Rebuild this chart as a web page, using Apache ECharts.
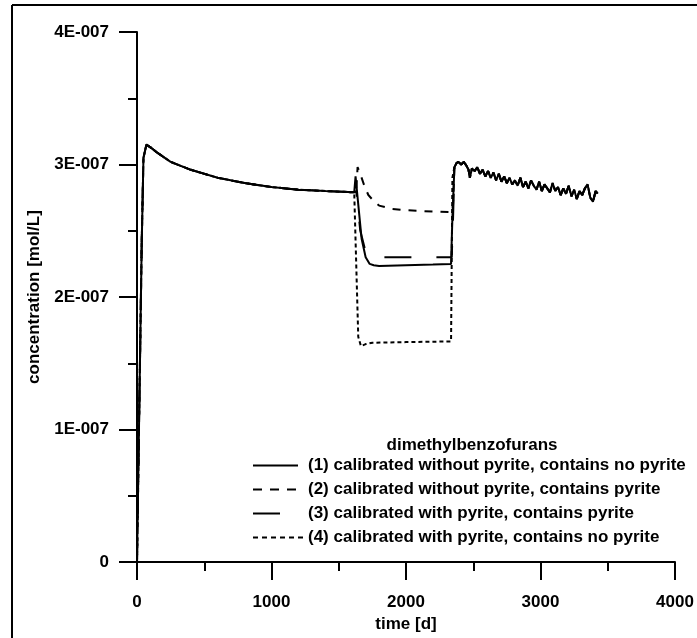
<!DOCTYPE html>
<html>
<head>
<meta charset="utf-8">
<script src="https://cdn.jsdelivr.net/npm/echarts@6/dist/echarts.min.js"></script>
<style>
  html, body { margin: 0; padding: 0; background: #fff; }
  #chart { width: 697px; height: 638px; }
</style>
</head>
<body>
<div id="chart"></div>
<script>
// concentrations in units of 1E-007 mol/L, time in days

// common start (all four runs overlap)
const startT = [0, 35, 48, 70, 100, 150, 250, 400, 600, 800, 1000, 1200, 1400, 1615];
const startC = [0, 2.4, 3.05, 3.15, 3.13, 3.09, 3.02, 2.96, 2.90, 2.86, 2.83, 2.81, 2.80, 2.79];

// pyrite section, per run
const run1T = [1625, 1645, 1670, 1700, 1730, 1760, 1800, 2000, 2200, 2335, 2345];
const run1C = [2.91, 2.70, 2.44, 2.30, 2.25, 2.24, 2.235, 2.24, 2.245, 2.25, 2.60];
const run2T = [1630, 1640, 1660, 1690, 1720, 1755, 1800, 1900, 2000, 2200, 2340, 2350];
const run2C = [2.80, 2.98, 2.93, 2.84, 2.77, 2.73, 2.69, 2.665, 2.655, 2.645, 2.64, 2.70];
const run3T = [1630, 1660, 1700, 1740, 1800, 2000, 2340, 2350];
const run3C = [2.80, 2.50, 2.34, 2.30, 2.30, 2.30, 2.30, 2.60];
const run4T = [1625, 1645, 1665, 1700, 1750, 2000, 2335, 2345];
const run4C = [2.80, 1.70, 1.63, 1.645, 1.655, 1.66, 1.665, 2.90];

// common noisy tail
const tailT = [2360, 2375, 2390, 2410, 2430, 2450, 2465, 2475, 2490, 2510,
  2530, 2550, 2570, 2590, 2610, 2630, 2650, 2670, 2690, 2710,
  2730, 2750, 2770, 2790, 2810, 2830, 2850, 2870, 2890, 2910,
  2930, 2950, 2970, 2990, 3010, 3030, 3050, 3070, 3090, 3110,
  3130, 3150, 3170, 3190, 3210, 3230, 3250, 3270, 3290, 3310,
  3330, 3350, 3370, 3390, 3410, 3425];
const tailC = [2.98, 3.01, 3.02, 3.00, 3.02, 2.99, 2.96, 2.90, 2.97, 2.95,
  2.98, 2.93, 2.96, 2.91, 2.95, 2.90, 2.94, 2.88, 2.93, 2.87,
  2.91, 2.86, 2.90, 2.85, 2.88, 2.84, 2.90, 2.83, 2.87, 2.82,
  2.88, 2.84, 2.81, 2.87, 2.80, 2.85, 2.82, 2.79, 2.86, 2.80,
  2.83, 2.77, 2.82, 2.78, 2.84, 2.76, 2.81, 2.74, 2.80, 2.77,
  2.82, 2.85, 2.75, 2.72, 2.80, 2.78];

const names = [
  '(1) calibrated without pyrite, contains no pyrite',
  '(2) calibrated without pyrite, contains pyrite',
  '(3) calibrated with pyrite, contains pyrite',
  '(4) calibrated with pyrite, contains no pyrite'
];
const xTicks = [0, 1000, 2000, 3000, 4000];
const yTicks = [0, 1, 2, 3, 4];

function pairs(ts, cs) {
  return ts.map((t, i) => [t, cs[i]]);
}
function runData(midT, midC) {
  return pairs(startT, startC).concat(pairs(midT, midC), pairs(tailT, tailC));
}

const font = 'Liberation Sans, Arial, sans-serif';
const styles = [
  { type: 'solid' },
  { type: [8, 8] },
  { type: [27, 25], dashOffset: 8 },
  { type: [4, 3] }
];
// legend keys: 45px sample then a blank before the text
const legendDash = [[45, 20], [9, 8], [27, 30], [5, 4]];
const mids = [[run1T, run1C], [run2T, run2C], [run3T, run3C], [run4T, run4C]];

const chart = echarts.init(document.getElementById('chart'), null, { renderer: 'canvas' });

chart.setOption({
  animation: false,
  backgroundColor: '#fff',
  grid: { left: 137, right: 22, top: 32, bottom: 73 },
  xAxis: {
    type: 'value',
    min: xTicks[0],
    max: xTicks[xTicks.length - 1],
    interval: 1000,
    name: 'time [d]',
    nameLocation: 'middle',
    nameGap: 48,
    nameTextStyle: { color: '#000', fontSize: 17, fontWeight: 'bold', fontFamily: font },
    axisLine: { lineStyle: { color: '#000', width: 2 } },
    axisTick: { length: 18, lineStyle: { color: '#000', width: 2 } },
    minorTick: { show: true, splitNumber: 2, length: 9, lineStyle: { color: '#000', width: 2 } },
    splitLine: { show: false },
    axisLabel: {
      margin: 32, color: '#000', fontSize: 17, fontWeight: 'bold', fontFamily: font,
      formatter: v => String(v)
    }
  },
  yAxis: {
    type: 'value',
    min: yTicks[0],
    max: yTicks[yTicks.length - 1],
    interval: 1,
    name: 'concentration [mol/L]',
    nameLocation: 'middle',
    nameGap: 89,
    nameTextStyle: { color: '#000', fontSize: 17, fontWeight: 'bold', fontFamily: font },
    axisLine: { show: true, lineStyle: { color: '#000', width: 2 } },
    axisTick: { show: true, length: 18, lineStyle: { color: '#000', width: 2 } },
    minorTick: { show: true, splitNumber: 2, length: 9, lineStyle: { color: '#000', width: 2 } },
    splitLine: { show: false },
    axisLabel: {
      margin: 28, color: '#000', fontSize: 17, fontWeight: 'bold', fontFamily: font,
      formatter: v => v === 0 ? '0' : v + 'E-007'
    }
  },
  legend: {
    orient: 'vertical',
    left: 252,
    top: 457,
    padding: 0,
    itemWidth: 50,
    itemHeight: 14,
    itemGap: 7,
    selectedMode: false,
    itemStyle: { opacity: 0 },
    textStyle: { color: '#000', fontSize: 17, fontWeight: 'bold', fontFamily: font },
    data: names.map((n, i) => ({
      name: n,
      lineStyle: { type: legendDash[i], dashOffset: 0, width: 2, color: '#000' }
    }))
  },
  graphic: [
    { type: 'line', shape: { x1: 12, y1: 5, x2: 697, y2: 5 }, style: { stroke: '#000', lineWidth: 2 } },
    { type: 'line', shape: { x1: 12, y1: 5, x2: 12, y2: 638 }, style: { stroke: '#000', lineWidth: 2 } },
    {
      type: 'text', x: 472, y: 445,
      style: {
        text: 'dimethylbenzofurans', align: 'center', verticalAlign: 'middle',
        fill: '#000', font: 'bold 17px ' + font
      }
    }
  ],
  series: names.map((n, i) => ({
    name: n,
    type: 'line',
    data: runData(mids[i][0], mids[i][1]),
    symbol: 'none',
    z: 10 - i,
    lineStyle: Object.assign({ color: '#000', width: 2 }, styles[i]),
    itemStyle: { color: '#000' }
  }))
});
</script>
</body>
</html>
